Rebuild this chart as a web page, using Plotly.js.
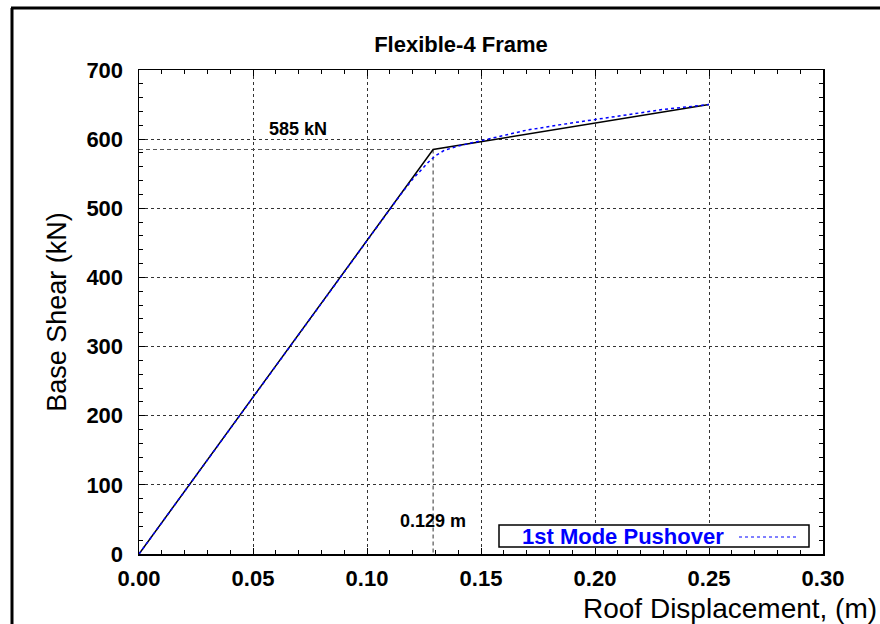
<!DOCTYPE html>
<html>
<head>
<meta charset="utf-8">
<script src="https://cdn.plot.ly/plotly-3.0.1.min.js"></script>
<style>html,body{margin:0;padding:0;background:#fff;}#chart{width:880px;height:624px;}</style>
</head>
<body>
<div id="chart"></div>
<script>
// Data
const pushDisp  = [0, 0.05, 0.10, 0.115, 0.120, 0.124, 0.127, 0.130, 0.134, 0.140, 0.150, 0.160, 0.170, 0.185, 0.200, 0.215, 0.230, 0.250];
const pushShear = [0, 227, 453, 521, 542, 557, 567, 576, 584, 590, 598, 606, 613, 621, 628, 636, 643, 650];
const bilinDisp  = [0, 0.129, 0.25];
const bilinShear = [0, 585, 650];
const yieldDisp = 0.129;
const yieldShear = 585;
const xTickVals = [0, 0.05, 0.10, 0.15, 0.20, 0.25, 0.30];
const yTickVals = [0, 100, 200, 300, 400, 500, 600, 700];
const titleText = "Flexible-4 Frame";
const xTitle = "Roof Displacement, (m)";
const yTitle = "Base Shear (kN)";
const legendName = "1st Mode Pushover";

const F = "Liberation Sans, Arial, sans-serif";

const traces = [
  {x: [0, yieldDisp, yieldDisp], y: [yieldShear, yieldShear, 0], mode: 'lines',
   line: {color: '#555', width: 1.2, dash: '4px,3px'}, showlegend: false, hoverinfo: 'skip'},
  {x: bilinDisp, y: bilinShear, mode: 'lines', name: 'Bilinear',
   line: {color: '#000', width: 1.5}, showlegend: false},
  {x: pushDisp, y: pushShear, mode: 'lines', name: legendName,
   line: {color: '#0000ff', width: 1.5, dash: 'dot'}, showlegend: false}
];

const axisCommon = {
  showline: true, linecolor: '#000', linewidth: 1.5, mirror: 'allticks',
  ticks: 'inside', ticklen: 6, tickwidth: 1, tickcolor: '#000',
  showgrid: true, gridcolor: '#333', gridwidth: 1, griddash: 'dot',
  zeroline: false,
  tickfont: {family: F, size: 22, color: '#000', weight: 'bold'}
};

const layout = {
  width: 880, height: 624,
  margin: {l: 139, r: 57, t: 70, b: 70},
  paper_bgcolor: '#fff', plot_bgcolor: '#fff',
  showlegend: false,
  title: {text: '<b>' + titleText + '</b>', font: {family: F, size: 22, color: '#000'},
          x: 461/880, xanchor: 'center', xref: 'container', y: 1 - 44/624, yanchor: 'middle', yref: 'container'},
  xaxis: Object.assign({}, axisCommon, {
    range: [0, 0.30], tickvals: xTickVals, tickformat: '.2f', ticklabelstandoff: 4,
    minor: {dtick: 0.01, ticks: 'inside', ticklen: 4, tickcolor: '#000', showgrid: false}
  }),
  yaxis: Object.assign({}, axisCommon, {
    range: [0, 700], tickvals: yTickVals, ticklabelstandoff: 10,
    minor: {dtick: 20, ticks: 'inside', ticklen: 4, tickcolor: '#000', showgrid: false},
    title: {text: yTitle, font: {family: F, size: 27, color: '#000'}, standoff: 12}
  }),
  annotations: [
    {x: 0.0697, y: 615, xref: 'x', yref: 'y', text: '<b>' + yieldShear + ' kN</b>', showarrow: false,
     font: {family: F, size: 18, color: '#000'}, xanchor: 'center', yanchor: 'middle'},
    {x: yieldDisp, y: 48, xref: 'x', yref: 'y', text: '<b>' + yieldDisp + ' m</b>', showarrow: false,
     font: {family: F, size: 18, color: '#000'}, xanchor: 'center', yanchor: 'middle'},
    {x: (878-139)/684, y: (554-592)/484, xref: 'paper', yref: 'paper', text: xTitle, showarrow: false,
     font: {family: F, size: 28, color: '#000'}, xanchor: 'right', yanchor: 'top', borderpad: 0},
    {x: (623-139)/684, y: (554-536)/484, xref: 'paper', yref: 'paper', text: '<b>' + legendName + '</b>', showarrow: false,
     font: {family: F, size: 22, color: '#0000ff'}, xanchor: 'center', yanchor: 'middle'}
  ],
  shapes: [
    // legend box
    {type: 'rect', xref: 'paper', yref: 'paper', x0: (499-139)/684, x1: (809-139)/684,
     y0: (554-547)/484, y1: (554-525)/484, line: {color: '#000', width: 1.5}, fillcolor: '#fff', layer: 'above'},
    // legend sample
    {type: 'line', xref: 'paper', yref: 'paper', x0: (739-139)/684, x1: (796-139)/684,
     y0: (554-537)/484, y1: (554-537)/484, line: {color: '#0000ff', width: 1, dash: 'dot'}, layer: 'above'},
    // figure frame (top and left)
    {type: 'line', xref: 'paper', yref: 'paper', x0: (11-139)/684, x1: 1.2, y0: (554-8)/484, y1: (554-8)/484,
     line: {color: '#000', width: 3}},
    {type: 'line', xref: 'paper', yref: 'paper', x0: (12-139)/684, x1: (12-139)/684, y0: (554-8)/484, y1: -0.3,
     line: {color: '#000', width: 3}}
  ]
};

Plotly.newPlot('chart', traces, layout, {displayModeBar: false, staticPlot: true});
</script>
</body>
</html>
